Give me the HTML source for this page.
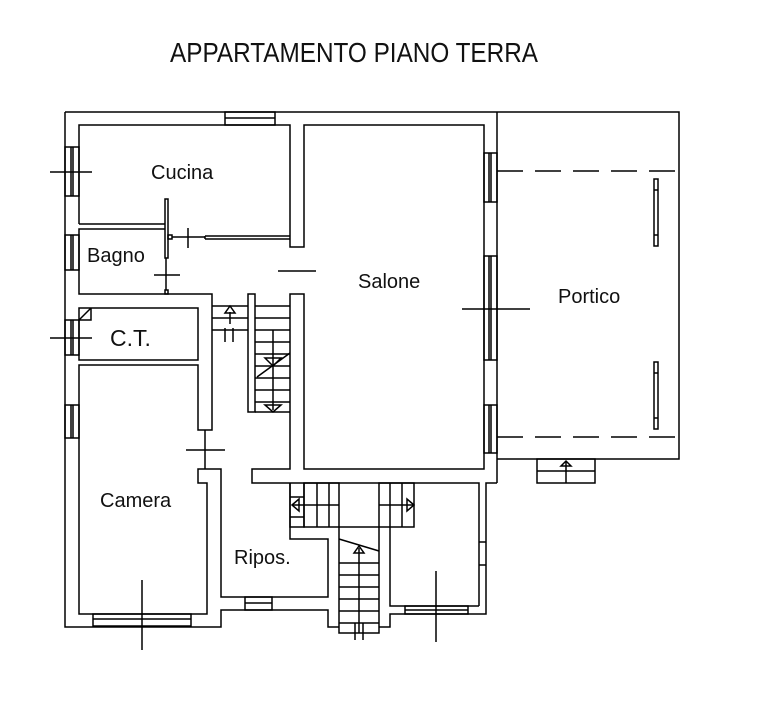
<!DOCTYPE html>
<html><head><meta charset="utf-8"><style>
html,body{margin:0;padding:0;background:#fff;}
svg{display:block}
text{font-family:"Liberation Sans",Arial,sans-serif;fill:#111}
</style></head><body>
<svg width="761" height="713" viewBox="0 0 761 713" xmlns="http://www.w3.org/2000/svg">
<g fill="none" stroke="#000" stroke-width="1.5">
<polyline points="65,112 679,112 679,459 497,459"/>
<line x1="497" y1="112" x2="497" y2="483"/>
<polyline points="65,112 65,627 221,627 221,610 328,610 328,627 339,627"/>
<polyline points="379,627 390,627 390,614 486,614 486,483 497,483"/>
<polyline points="79,224 79,125 290,125 290,247 304,247 304,125 484,125 484,469 304,469 304,294 290,294 290,469 252,469 252,483 479,483 479,606"/>
<polyline points="79,224 165,224"/>
<polyline points="205,236 290,236"/><polyline points="205,239 290,239"/><line x1="205" y1="236" x2="205" y2="239"/>
<rect x="165" y="199" width="3" height="59"/>
<rect x="168" y="235" width="4" height="4"/>
<polyline points="165,229 79,229 79,294 212,294 212,430 198,430 198,365 79,365 79,614 207,614 207,483 198,483 198,469 221,469 221,597 328,597 328,539 290,539 290,483"/>
<line x1="166" y1="258" x2="166" y2="290"/><rect x="165" y="290" width="3" height="4"/>
<rect x="79" y="308" width="119" height="52"/>
<line x1="79" y1="320" x2="91" y2="308"/><polyline points="79,320 91,320 91,308"/>
<line x1="212" y1="306" x2="248" y2="306"/><line x1="212" y1="318" x2="248" y2="318"/><line x1="212" y1="330" x2="248" y2="330"/>
<line x1="230" y1="312" x2="230" y2="324"/><polygon points="225,313 235,313 230,306"/>
<line x1="225" y1="328" x2="225" y2="342"/><line x1="233" y1="328" x2="233" y2="342"/>
<rect x="248" y="294" width="7" height="118"/>
<polyline points="255,306 290,306"/><line x1="255" y1="318" x2="290" y2="318"/><line x1="255" y1="330" x2="290" y2="330"/><line x1="255" y1="342" x2="290" y2="342"/><line x1="255" y1="354" x2="290" y2="354"/><line x1="255" y1="366" x2="290" y2="366"/><line x1="255" y1="378" x2="290" y2="378"/><line x1="255" y1="390" x2="290" y2="390"/><line x1="255" y1="402" x2="290" y2="402"/><line x1="255" y1="412" x2="290" y2="412"/>
<line x1="273" y1="330" x2="273" y2="410"/><line x1="257" y1="377" x2="290" y2="353"/>
<polygon points="265,358 281,358 273,366"/><polygon points="265,405 281,405 273,412"/>
<line x1="205" y1="430" x2="205" y2="469"/>
<polyline points="290,483 290,527 304,527 304,483"/>
<line x1="290" y1="497" x2="304" y2="497"/><line x1="290" y1="517" x2="304" y2="517"/>
<rect x="304" y="483" width="35" height="44"/>
<line x1="317" y1="483" x2="317" y2="527"/><line x1="329" y1="483" x2="329" y2="527"/>
<line x1="292" y1="505" x2="339" y2="505"/><polygon points="292,505 299,499 299,511"/>
<rect x="379" y="483" width="35" height="44"/>
<line x1="390" y1="483" x2="390" y2="527"/><line x1="402" y1="483" x2="402" y2="527"/>
<line x1="379" y1="505" x2="414" y2="505"/><polygon points="414,505 407,499 407,511"/>
<rect x="339" y="527" width="40" height="106"/>
<line x1="339" y1="539" x2="379" y2="551"/>
<line x1="339" y1="563" x2="379" y2="563"/><line x1="339" y1="575" x2="379" y2="575"/><line x1="339" y1="587" x2="379" y2="587"/><line x1="339" y1="599" x2="379" y2="599"/><line x1="339" y1="611" x2="379" y2="611"/><line x1="339" y1="623" x2="379" y2="623"/>
<line x1="359" y1="548" x2="359" y2="633"/><polygon points="354,553 364,553 359,546"/>
<line x1="355" y1="623" x2="355" y2="640"/><line x1="363" y1="623" x2="363" y2="640"/>
<polyline points="390,527 390,606 479,606"/>
<line x1="479" y1="542" x2="486" y2="542"/><line x1="479" y1="565" x2="486" y2="565"/>
<rect x="225" y="112" width="50" height="13"/><line x1="225" y1="118" x2="275" y2="118"/>
<rect x="65" y="147" width="14" height="49"/><line x1="71" y1="147" x2="71" y2="196"/><line x1="73" y1="147" x2="73" y2="196"/>
<rect x="65" y="235" width="14" height="35"/><line x1="71" y1="235" x2="71" y2="270"/><line x1="73" y1="235" x2="73" y2="270"/>
<rect x="65" y="320" width="14" height="35"/><line x1="71" y1="320" x2="71" y2="355"/><line x1="73" y1="320" x2="73" y2="355"/>
<rect x="65" y="405" width="14" height="33"/><line x1="71" y1="405" x2="71" y2="438"/><line x1="73" y1="405" x2="73" y2="438"/>
<rect x="484" y="153" width="13" height="49"/><line x1="489" y1="153" x2="489" y2="202"/><line x1="491" y1="153" x2="491" y2="202"/>
<rect x="484" y="256" width="13" height="104"/><line x1="489" y1="256" x2="489" y2="360"/><line x1="491" y1="256" x2="491" y2="360"/>
<rect x="484" y="405" width="13" height="48"/><line x1="489" y1="405" x2="489" y2="453"/><line x1="491" y1="405" x2="491" y2="453"/>
<rect x="93" y="614" width="98" height="12"/><line x1="93" y1="619" x2="191" y2="619"/>
<rect x="245" y="597" width="27" height="13"/><line x1="245" y1="603" x2="272" y2="603"/>
<rect x="405" y="606" width="63" height="8"/><line x1="405" y1="610" x2="468" y2="610"/>
<line x1="497" y1="171" x2="679" y2="171" stroke-dasharray="26,12"/>
<line x1="497" y1="437" x2="679" y2="437" stroke-dasharray="26,12"/>
<rect x="654" y="179" width="4" height="67"/><line x1="654" y1="190" x2="658" y2="190"/><line x1="654" y1="235" x2="658" y2="235"/>
<rect x="654" y="362" width="4" height="67"/><line x1="654" y1="373" x2="658" y2="373"/><line x1="654" y1="418" x2="658" y2="418"/>
<rect x="537" y="459" width="58" height="24"/><line x1="537" y1="471" x2="595" y2="471"/><line x1="566" y1="462" x2="566" y2="483"/><polygon points="561,466 571,466 566,461"/>
<line x1="50" y1="172" x2="92" y2="172"/>
<line x1="50" y1="338" x2="92" y2="338"/>
<line x1="172" y1="237" x2="205" y2="237"/><line x1="188" y1="228" x2="188" y2="248"/>
<line x1="154" y1="275" x2="180" y2="275"/>
<line x1="278" y1="271" x2="316" y2="271"/>
<line x1="186" y1="450" x2="225" y2="450"/>
<line x1="462" y1="309" x2="530" y2="309"/>
<line x1="142" y1="580" x2="142" y2="650"/>
<line x1="436" y1="571" x2="436" y2="642"/>
</g>
<text x="170" y="62" font-size="28" textLength="368" lengthAdjust="spacingAndGlyphs">APPARTAMENTO PIANO TERRA</text>
<text x="151" y="179" font-size="20">Cucina</text>
<text x="87" y="262" font-size="20">Bagno</text>
<text x="110" y="346" font-size="23">C.T.</text>
<text x="358" y="288" font-size="20">Salone</text>
<text x="558" y="303" font-size="20">Portico</text>
<text x="100" y="507" font-size="20">Camera</text>
<text x="234" y="564" font-size="20">Ripos.</text>
</svg>
</body></html>
